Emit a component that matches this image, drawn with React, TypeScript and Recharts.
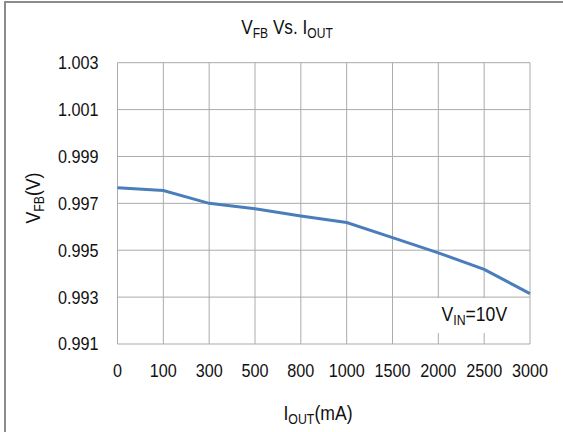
import { LineChart, Line, XAxis, YAxis, CartesianGrid } from 'recharts'

// output current (mA) and feedback voltage (V)
const currents = ['0', '100', '300', '500', '800', '1000', '1500', '2000', '2500', '3000']
const vfb = [0.99767, 0.99755, 0.997, 0.99677, 0.99646, 0.99618, 0.99554, 0.99489, 0.99418, 0.99315]
const yTicks = [0.991, 0.993, 0.995, 0.997, 0.999, 1.001, 1.003]

const data = currents.map((c, i) => ({ iout: c, vfb: vfb[i] }))

const FONT = '"Liberation Sans", Arial, sans-serif'
const sub = { fontSize: 14, verticalAlign: '-4px' } as const

// the source uses a slightly condensed face, so squeeze the text a little
const XTick = (props: any) => {
  const { x, y, payload } = props
  return (
    <text
      transform={`translate(${x},${y}) scale(0.9,1)`}
      textAnchor="middle"
      dy="0.71em"
      fontSize={18}
      fontFamily={FONT}
      fill="#111"
    >
      {payload.value}
    </text>
  )
}

const YTick = (props: any) => {
  const { x, y, payload } = props
  return (
    <text
      transform={`translate(${x},${y}) scale(0.9,1)`}
      textAnchor="end"
      dy="0.355em"
      fontSize={18}
      fontFamily={FONT}
      fill="#111"
    >
      {Number(payload.value).toFixed(3)}
    </text>
  )
}

export default function App() {
  return (
    <div
      style={{
        position: 'absolute',
        left: 0,
        top: 0,
        width: 563,
        height: 432,
        background: '#fff',
        fontFamily: FONT,
        color: '#111',
      }}
    >
      {/* cropped frame: only top and left edges visible */}
      <div
        style={{
          position: 'absolute',
          left: 4,
          top: 1,
          right: 0,
          bottom: 0,
          borderLeft: '2px solid #8c8c8c',
          borderTop: '2px solid #8c8c8c',
        }}
      />
      <LineChart
        width={563}
        height={432}
        data={data}
        margin={{ top: 62.7, right: 33, bottom: 58, left: 57.5 }}
        style={{ position: 'absolute', left: 0, top: 0 }}
      >
        <CartesianGrid stroke="#ababab" strokeWidth={1} />
        <XAxis
          dataKey="iout"
          height={30}
          axisLine={false}
          tickLine={false}
          tickSize={0}
          tickMargin={20}
          interval={0}
          tick={<XTick />}
        />
        <YAxis
          width={60}
          domain={[0.991, 1.003]}
          ticks={yTicks}
          axisLine={false}
          tickLine={false}
          tickSize={0}
          tickMargin={19}
          tick={<YTick />}
        />
        <Line
          type="linear"
          dataKey="vfb"
          stroke="#4a7ebb"
          strokeWidth={3}
          dot={false}
          activeDot={false}
          isAnimationActive={false}
        />
      </LineChart>

      {/* title */}
      <div
        style={{
          position: 'absolute',
          left: 187,
          width: 200,
          top: 16,
          textAlign: 'center',
          fontSize: 20,
          whiteSpace: 'nowrap',
          transform: 'scaleX(0.86)',
        }}
      >
        V<span style={sub}>FB</span> Vs. I<span style={sub}>OUT</span>
      </div>

      {/* y axis title */}
      <div
        style={{
          position: 'absolute',
          left: 34,
          top: 198,
          transform: 'translate(-50%, -50%) rotate(-90deg) scaleX(0.88)',
          fontSize: 20,
          whiteSpace: 'nowrap',
        }}
      >
        V<span style={sub}>FB</span>(V)
      </div>

      {/* x axis title */}
      <div
        style={{
          position: 'absolute',
          left: 218,
          width: 200,
          top: 402,
          textAlign: 'center',
          fontSize: 20,
          whiteSpace: 'nowrap',
          transform: 'scaleX(0.88)',
        }}
      >
        I<span style={sub}>OUT</span>(mA)
      </div>

      {/* condition note */}
      <div
        style={{
          position: 'absolute',
          left: 430,
          top: 298,
          width: 88,
          height: 35,
          background: '#fff',
          display: 'flex',
          alignItems: 'center',
          justifyContent: 'center',
          fontSize: 20,
          whiteSpace: 'nowrap',
        }}
      >
        <span style={{ display: 'inline-block', transform: 'scaleX(0.88)' }}>
          V<span style={sub}>IN</span>=10V
        </span>
      </div>
    </div>
  )
}
